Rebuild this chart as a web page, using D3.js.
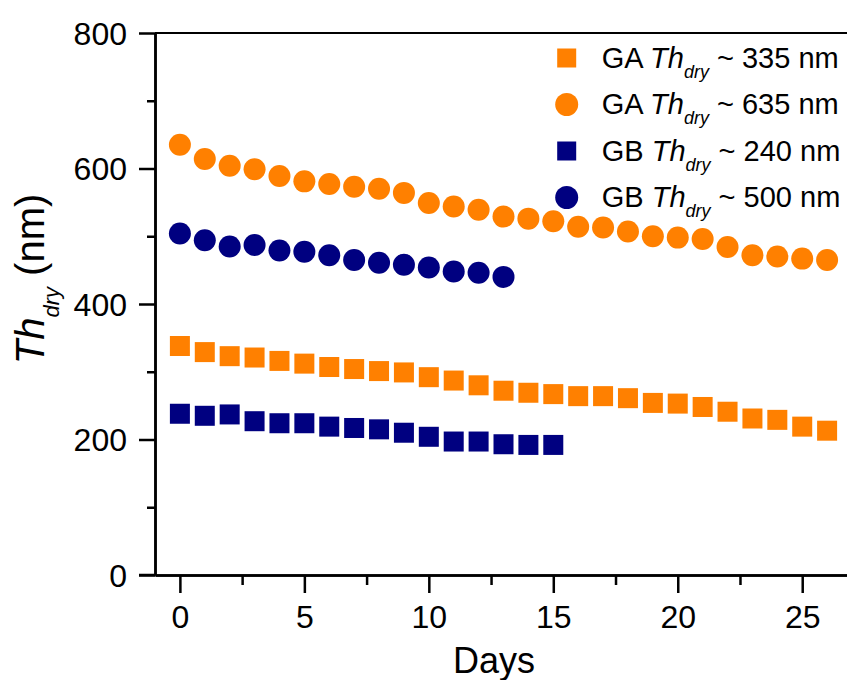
<!DOCTYPE html>
<html>
<head>
<meta charset="utf-8">
<script src="https://cdn.jsdelivr.net/npm/d3@7"></script>
<style>
  html, body { margin: 0; padding: 0; background: #fff; }
  svg { display: block; }
  text { font-family: "Liberation Sans", Arial, Helvetica, sans-serif; fill: #000; }
</style>
</head>
<body>
<svg id="chart" width="847" height="680"></svg>
<script>
// ---- data ----
const daysGA = d3.range(0, 27);          // 0..26
const daysGB240 = d3.range(0, 16);       // 0..15
const daysGB500 = d3.range(0, 14);       // 0..13

const ga335 = [338, 329, 323, 321, 316, 312, 307, 304, 301, 299, 292, 287, 280, 272, 269, 267, 264, 264, 261, 254, 253, 248, 241, 231, 229, 219, 213];
const ga635 = [635, 614, 604, 599, 589, 581, 577, 573, 570, 564, 549, 544, 539, 529, 526, 522, 514, 513, 507, 500, 498, 496, 484, 472, 470, 467, 465];
const gb240 = [238, 235, 237, 227, 224, 224, 219, 217, 215, 210, 204, 197, 197, 193, 192, 192];
const gb500 = [504, 494, 485, 487, 479, 477, 472, 465, 461, 458, 454, 448, 446, 440];

const xMajorTicks = [0, 5, 10, 15, 20, 25];
const xMinorTicks = [2.5, 7.5, 12.5, 17.5, 22.5];
const yMajorTicks = [0, 200, 400, 600, 800];
const yMinorTicks = [100, 300, 500, 700];

const seriesNames = ["GA", "GA", "GB", "GB"];
const seriesThick = ["335", "635", "240", "500"];

const ORANGE = "#FF8000";
const NAVY = "#000080";

const series = [
  { group: seriesNames[0], thick: seriesThick[0], days: daysGA, values: ga335, color: ORANGE, shape: "square" },
  { group: seriesNames[1], thick: seriesThick[1], days: daysGA, values: ga635, color: ORANGE, shape: "circle" },
  { group: seriesNames[2], thick: seriesThick[2], days: daysGB240, values: gb240, color: NAVY, shape: "square" },
  { group: seriesNames[3], thick: seriesThick[3], days: daysGB500, values: gb500, color: NAVY, shape: "circle" }
];

// ---- layout ----
const svg = d3.select("#chart");

const x = d3.scaleLinear().domain([-1, 27]).range([155, 852]);
const y = d3.scaleLinear().domain([0, 800]).range([575, 33]);

const AXW = 2.5;

// data points
const SQ = 20, R = 11;
series.forEach(s => {
  const g = svg.append("g");
  const pts = s.days.map((d, i) => ({ d, v: s.values[i] }));
  if (s.shape === "square") {
    g.selectAll("rect").data(pts).join("rect")
      .attr("x", p => x(p.d) - SQ / 2)
      .attr("y", p => y(p.v) - SQ / 2)
      .attr("width", SQ).attr("height", SQ)
      .attr("fill", s.color);
  } else {
    g.selectAll("circle").data(pts).join("circle")
      .attr("cx", p => x(p.d))
      .attr("cy", p => y(p.v))
      .attr("r", R)
      .attr("fill", s.color);
  }
});

// top frame line
svg.append("line")
  .attr("x1", x.range()[0]).attr("x2", 847)
  .attr("y1", y(800)).attr("y2", y(800))
  .attr("stroke", "#000").attr("stroke-width", 2);

// y axis
const yAxisG = svg.append("g").attr("transform", `translate(${x.range()[0]},0)`);
yAxisG.call(d3.axisLeft(y).tickValues(yMajorTicks).tickSize(16).tickSizeOuter(0).tickFormat(d3.format("d")));
yAxisG.append("g").call(d3.axisLeft(y).tickValues(yMinorTicks).tickSize(8).tickSizeOuter(0).tickFormat(""));
yAxisG.selectAll("path.domain").attr("stroke-width", AXW);
yAxisG.selectAll(".tick line").attr("stroke-width", AXW);
yAxisG.selectAll(".tick text")
  .attr("font-size", 32)
  .attr("x", -28)
  .attr("dy", "0.35em")
  .style("font-family", '"Liberation Sans", Arial, sans-serif');

// x axis
const xAxisG = svg.append("g").attr("transform", `translate(0,${y(0)})`);
xAxisG.call(d3.axisBottom(x).tickValues(xMajorTicks).tickSize(18).tickPadding(12).tickSizeOuter(0).tickFormat(d3.format("d")));
xAxisG.append("g").call(d3.axisBottom(x).tickValues(xMinorTicks).tickSize(10).tickSizeOuter(0).tickFormat(""));
xAxisG.selectAll("path.domain").attr("stroke-width", AXW);
xAxisG.selectAll(".tick line").attr("stroke-width", AXW);
xAxisG.selectAll(".tick text")
  .attr("font-size", 32)
  .style("font-family", '"Liberation Sans", Arial, sans-serif');
xAxisG.append("line").attr("x1", x.range()[0] - 16).attr("x2", x.range()[0])
  .attr("y1", 0).attr("y2", 0).attr("stroke", "#000").attr("stroke-width", AXW);

// x label
svg.append("text")
  .attr("transform", `translate(494,673)`)
  .attr("text-anchor", "middle")
  .attr("font-size", 36)
  .text("Days");

// y label
const yl = svg.append("text")
  .attr("transform", `translate(44,279) rotate(-90)`)
  .attr("text-anchor", "middle")
  .attr("font-size", 40);
yl.append("tspan").attr("font-style", "italic").text("Th");
yl.append("tspan").attr("font-size", 22).attr("font-style", "italic").attr("dy", 15).text("dry");
yl.append("tspan").attr("dy", -15).text(" (nm)");

// legend
const legX = 566.7, legY0 = 58, legDY = 46.5;
series.forEach((s, i) => {
  const cy = legY0 + i * legDY;
  if (s.shape === "square") {
    svg.append("rect").attr("x", legX - 9.5).attr("y", cy - 9.5).attr("width", 19).attr("height", 19).attr("fill", s.color);
  } else {
    svg.append("circle").attr("cx", legX).attr("cy", cy).attr("r", 11.5).attr("fill", s.color);
  }
  const t = svg.append("text")
    .attr("transform", `translate(601.7,${cy + 9.5})`)
    .attr("font-size", 29);
  t.append("tspan").text(s.group + " ");
  t.append("tspan").attr("font-style", "italic").text("Th");
  t.append("tspan").attr("font-style", "italic").attr("font-size", 18).attr("dy", 10).text("dry");
  t.append("tspan").attr("dy", -10).text(" ~ " + s.thick + " nm");
});
</script>
</body>
</html>
